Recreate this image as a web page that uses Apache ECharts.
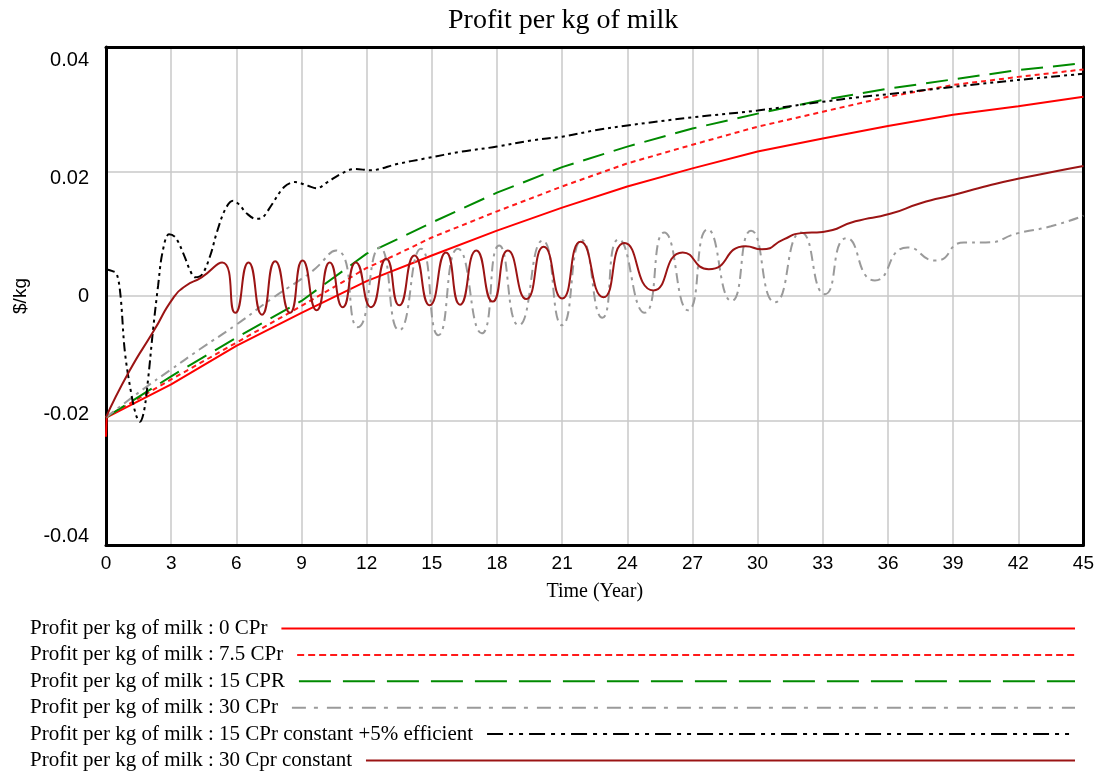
<!DOCTYPE html>
<html>
<head>
<meta charset="utf-8">
<script src="https://cdn.jsdelivr.net/npm/echarts@6/dist/echarts.min.js"></script>
<style>
  html, body { margin: 0; padding: 0; background: #fff; }
  #main { width: 1097px; height: 772px; }
</style>
</head>
<body>
<div id="main"></div>
<script>
// series values, [time (year), $/kg]
var cpr0 = [
    [0, -0.0226], [0.03, -0.0195], [3, -0.0142], [6, -0.008], [9, -0.0027], [12, 0.0024],
    [15, 0.0065], [18, 0.0105], [21, 0.0142], [24, 0.0176], [27, 0.0205], [30, 0.0232],
    [33, 0.0253], [36, 0.0273], [39, 0.0291], [42, 0.0305], [45, 0.032]
];
var cpr75 = [
    [0, -0.0195], [3, -0.0134], [6, -0.0075], [9, -0.0016], [12, 0.0045], [13.4, 0.0067],
    [15, 0.0094], [18, 0.0136], [21, 0.0176], [24, 0.0213], [27, 0.0243], [30, 0.0272],
    [33, 0.0296], [36, 0.032], [39, 0.0339], [42, 0.0352], [45, 0.0364]
];
var cpr15 = [
    [0, -0.0195], [3, -0.0129], [6, -0.0067], [9, -0.0008], [12, 0.0068], [13.4, 0.0091],
    [15, 0.0118], [18, 0.0166], [21, 0.0207], [24, 0.024], [27, 0.0269], [30, 0.0293],
    [33, 0.0315], [36, 0.0333], [39, 0.0348], [42, 0.0363], [45, 0.0374]
];
var cpr30 = [
    [0, -0.0195], [1.7, -0.015], [3, -0.0118], [4.3, -0.0086], [6, -0.0046], [7.6, -0.0005],
    [8.85, 0.0024], [9.5, 0.004], [10.6, 0.0073], [11.6, -0.005], [12.6, 0.0078], [13.5, -0.0055],
    [14.5, 0.0076], [15.3, -0.0063], [16.2, 0.0076], [17.3, -0.006], [18.1, 0.0081], [19.0, -0.0047],
    [20.1, 0.0089], [21.0, -0.0047], [21.9, 0.009], [22.85, -0.0035], [23.6, 0.0091], [24.8, -0.0027],
    [25.7, 0.0102], [26.8, -0.0023], [27.7, 0.0107], [28.8, -0.0008], [29.7, 0.0105], [30.8, -0.001],
    [32.0, 0.0102], [33.1, 0.0003], [34.1, 0.0093], [35.4, 0.0025], [36.9, 0.0078], [38.2, 0.0057],
    [39.5, 0.0086], [40.5, 0.0086], [42, 0.0101], [43.5, 0.0112], [45, 0.0129]
];
var cpr15Eff = [
    [0, 0.0043], [0.3, 0.004], [0.5, 0.0035], [0.67, 0], [0.87, -0.009], [1.18, -0.016],
    [1.4, -0.0193], [1.56, -0.0202], [1.75, -0.0185], [1.94, -0.0133], [2.17, -0.0053], [2.4, 0.0017],
    [2.6, 0.007], [2.9, 0.0099], [3.2, 0.0094], [3.6, 0.0065], [3.85, 0.0043], [4.1, 0.003],
    [4.43, 0.0035], [4.8, 0.0065], [5.1, 0.0102], [5.5, 0.014], [5.85, 0.0153], [6.1, 0.0148],
    [6.5, 0.0132], [6.9, 0.0124], [7.2, 0.0126], [7.6, 0.0145], [8.2, 0.0175], [8.7, 0.0183],
    [9.3, 0.0177], [9.7, 0.0173], [10.2, 0.0183], [10.8, 0.0196], [11.45, 0.0204], [12.2, 0.0202],
    [13.4, 0.0212], [14.7, 0.0221], [16.4, 0.0232], [18, 0.024], [19.6, 0.025], [21, 0.0256],
    [22.5, 0.0266], [24, 0.0274], [27, 0.0287], [30, 0.0298], [33, 0.0312], [34.8, 0.032],
    [36, 0.0324], [39, 0.0336], [42, 0.0347], [45, 0.0357]
];
var cpr30Const = [
    [0, -0.0195], [1.07, -0.0121], [2.2, -0.0056], [3.1, -0.0003], [3.66, 0.0016], [4.4, 0.003],
    [5.35, 0.0054], [5.95, -0.0027], [6.56, 0.0054], [7.18, -0.003], [7.79, 0.0056], [8.47, -0.0027],
    [9.05, 0.0057], [9.7, -0.0023], [10.3, 0.0054], [10.9, -0.0018], [11.5, 0.0054], [12.2, -0.0018],
    [12.9, 0.006], [13.5, -0.0015], [14.2, 0.0065], [14.9, -0.0015], [15.65, 0.007], [16.3, -0.0014],
    [17.05, 0.0073], [17.8, -0.0009], [18.5, 0.0073], [19.35, -0.0005], [20.15, 0.0079], [21.0, -0.0004],
    [21.85, 0.0087], [22.9, -0.0002], [23.87, 0.0085], [25.2, 0.0009], [26.55, 0.007], [27.75, 0.0043],
    [29.45, 0.008], [30.2, 0.0075], [31.2, 0.0091], [32.0, 0.0101], [33, 0.0103], [34.5, 0.012],
    [36.1, 0.0132], [37.5, 0.0149], [39.1, 0.0163], [40.6, 0.0177], [42.1, 0.0189], [45, 0.0209]
];

var seriesNames = [
    'Profit per kg of milk : 0 CPr',
    'Profit per kg of milk : 7.5 CPr',
    'Profit per kg of milk : 15 CPR',
    'Profit per kg of milk : 30 CPr',
    'Profit per kg of milk : 15 CPr constant +5% efficient',
    'Profit per kg of milk : 30 Cpr constant'
];
var seriesData = [cpr0, cpr75, cpr15, cpr30, cpr15Eff, cpr30Const];

var serif = '"Liberation Serif", "Times New Roman", serif';
var sans = '"Liberation Sans", Arial, sans-serif';

var colors = ['#ff0000', '#ff1a1a', '#008a00', '#9a9a9a', '#000000', '#9b1414'];
var chartDash = ['solid', [5, 4], [22, 10], [10, 5, 3, 5], [9, 4, 3, 4, 3, 4], 'solid'];
var legendDash = ['solid', [7, 4], [32, 12], [14, 8, 4, 9], [16, 6, 4, 6, 4, 6], 'solid'];
var smoothOn = [false, false, false, 0.6, 0.35, 0.6];

// y tick label nudges (Vensim puts the labels inward)
var yLabelRich = {
    d26: {padding: [26, 0, 0, 0]},
    d14: {padding: [14, 0, 0, 0]},
    u12: {padding: [0, 0, 12, 0]},
    u18: {padding: [0, 0, 18, 0]}
};

function measure(text, font) {
    var ctx = document.createElement('canvas').getContext('2d');
    ctx.font = font;
    return ctx.measureText(text).width;
}

var myChart = echarts.init(document.getElementById('main'));

var legends = [];
var series = [];
for (var i = 0; i < seriesNames.length; i++) {
    var tw = measure(seriesNames[i], '21px ' + serif);
    legends.push({
        data: [seriesNames[i]],
        left: 30,
        top: 618 + i * 26.4,
        padding: 0,
        align: 'right',
        selectedMode: false,
        itemWidth: Math.max(20, 1075 - 30 - tw - 14),
        itemHeight: 14,
        textStyle: {fontFamily: serif, fontSize: 21, color: '#000', padding: [0, 9, 0, 0]},
        lineStyle: {type: legendDash[i], width: 2},
        itemStyle: {opacity: 0}
    });
    series.push({
        type: 'line',
        name: seriesNames[i],
        data: seriesData[i],
        symbol: 'none',
        smooth: smoothOn[i],
        silent: true,
        lineStyle: {color: colors[i], width: 2, type: chartDash[i]},
        itemStyle: {color: colors[i]}
    });
}

var frameAxis = {
    axisLine: {show: true, onZero: false, lineStyle: {color: '#000', width: 3}},
    axisTick: {show: false},
    axisLabel: {show: false},
    splitLine: {show: false}
};

var option = {
    backgroundColor: '#fff',
    animation: false,
    title: {
        text: 'Profit per kg of milk',
        left: 443,
        top: 2,
        textStyle: {fontFamily: serif, fontSize: 28, fontWeight: 'normal', color: '#000'}
    },
    legend: legends,
    grid: {
        left: 106,
        right: 9,
        top: 47,
        bottom: 227
    },
    xAxis: [{
        type: 'value',
        min: 0,
        max: 45,
        interval: 3,
        name: 'Time (Year)',
        nameLocation: 'middle',
        nameGap: 37,
        nameTextStyle: {fontFamily: serif, fontSize: 20, color: '#000'},
        axisLine: {onZero: false, lineStyle: {color: '#000', width: 3}},
        axisTick: {show: false},
        axisLabel: {margin: 9, fontFamily: sans, fontSize: 19, color: '#000'},
        splitLine: {show: true, lineStyle: {color: '#c8c8c8', width: 1.5}}
    }, echarts.util.extend({type: 'value', position: 'top', min: 0, max: 45}, frameAxis)],
    yAxis: [{
        type: 'value',
        min: -0.04,
        max: 0.04,
        interval: 0.02,
        name: '$/kg',
        nameLocation: 'middle',
        nameRotate: 90,
        nameGap: 76,
        nameTextStyle: {fontFamily: sans, fontSize: 19, color: '#000'},
        axisLine: {onZero: false, lineStyle: {color: '#000', width: 3}},
        axisTick: {show: false},
        axisLabel: {
            margin: 17,
            fontFamily: sans,
            fontSize: 20,
            color: '#000',
            formatter: function (val) {
                var s = String(Math.round(val * 100) / 100);
                if (val > 0.03) return '{d26|' + s + '}';
                if (val > 0.01) return '{d14|' + s + '}';
                if (val < -0.03) return '{u18|' + s + '}';
                if (val < -0.01) return '{u12|' + s + '}';
                return s;
            },
            rich: yLabelRich
        },
        splitLine: {show: true, lineStyle: {color: '#c8c8c8', width: 1.5}}
    }, echarts.util.extend({type: 'value', position: 'right', min: -0.04, max: 0.04}, frameAxis)],
    series: series
};

myChart.setOption(option);
window.addEventListener('resize', function () {
    myChart.resize();
});
</script>
</body>
</html>
